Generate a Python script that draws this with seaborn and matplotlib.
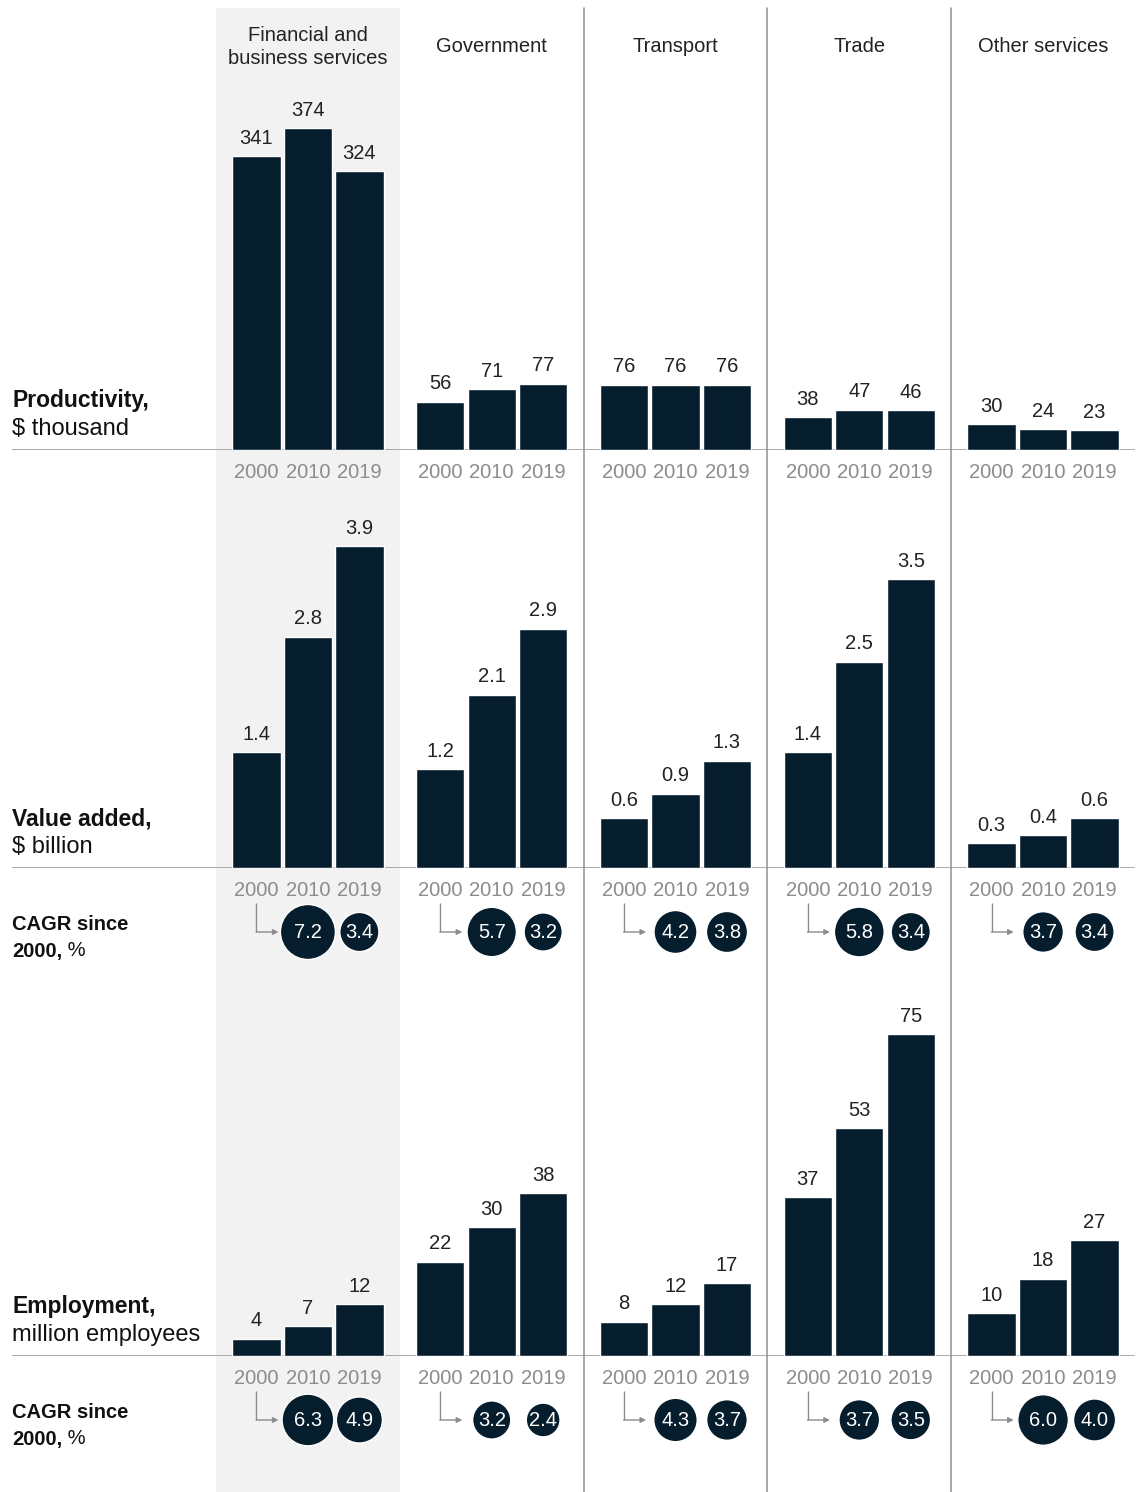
import numpy as np
import pandas as pd
import seaborn as sns
import matplotlib.pyplot as plt
from matplotlib.lines import Line2D
from matplotlib.patches import Rectangle
from matplotlib.text import Annotation
from matplotlib.transforms import blended_transform_factory

sectors = ['Financial and\nbusiness services', 'Government', 'Transport', 'Trade', 'Other services']
years = ['2000', '2010', '2019']

productivity = [[341, 374, 324], [56, 71, 77], [76, 76, 76], [38, 47, 46], [30, 24, 23]]
value_added = [[1.4, 2.8, 3.9], [1.2, 2.1, 2.9], [0.6, 0.9, 1.3], [1.4, 2.5, 3.5], [0.3, 0.4, 0.6]]
employment = [[4, 7, 12], [22, 30, 38], [8, 12, 17], [37, 53, 75], [10, 18, 27]]

periods = ['2000-10', '2010-19']
cagr_value = [[7.2, 3.4], [5.7, 3.2], [4.2, 3.8], [5.8, 3.4], [3.7, 3.4]]
cagr_employment = [[6.3, 4.9], [3.2, 2.4], [4.3, 3.7], [3.7, 3.5], [6.0, 4.0]]

NAVY = '#061d2d'
GREY = '#9a9a9a'
BAND = '#f2f2f2'
W, H = 1142, 1492

sns.set_style('white')
plt.rcParams['font.family'] = ['Liberation Sans', 'DejaVu Sans']

fig = plt.figure(figsize=(W / 100, H / 100), dpi=100)


def px_axes(left, top, right, bottom):
    ax = fig.add_axes([left / W, 1 - bottom / H, (right - left) / W, (bottom - top) / H])
    ax.set_facecolor('none')
    return ax


def long_df(values):
    rows = []
    for s, vals in zip(sectors, values):
        for y, v in zip(years, vals):
            rows.append({'sector': s, 'year': y, 'value': v})
    return pd.DataFrame(rows)


bar_rows = [
    (productivity, 450, 'Productivity,', r'\$ thousand', '{:.0f}', None),
    (value_added, 868, 'Value added,', r'\$ billion', '{:.1f}', cagr_value),
    (employment, 1356, 'Employment,', 'million employees', '{:.0f}', cagr_employment),
]

first_ax = None
for values, base, lab1, lab2, fmt, cagr in bar_rows:
    ax = px_axes(12, base - 360, 1135, base)
    df = long_df(values)
    sns.barplot(data=df, x='sector', y='value', hue='year', order=sectors, hue_order=years,
                palette=[NAVY] * 3, width=0.84, gap=0.06, errorbar=None, legend=False,
                saturation=1, ax=ax)
    vmax = df['value'].max()
    ax.set_ylim(0, vmax * 360 / 322)
    ax.set_xlim(-1.61, 4.5)
    for cont in ax.containers:
        ax.bar_label(cont, fmt=fmt, padding=6, fontsize=14.5, color='#222222')
    pos = sorted(p.get_x() + p.get_width() / 2 for p in ax.patches)
    ax.set_xticks(pos)
    ax.set_xticklabels(years * len(sectors))
    ax.tick_params(axis='x', length=0, pad=9, labelsize=14.5, labelcolor='#8c8c8c')
    ax.set_yticks([])
    ax.set_xlabel('')
    ax.set_ylabel('')
    sns.despine(ax=ax, left=True, bottom=True)
    ax.axhline(0, color=GREY, lw=1.2, zorder=0)

    fig.text(12 / W, 1 - (base - 49) / H, lab1, fontsize=16.5, fontweight='bold',
             va='center', color='#111111')
    fig.text(12 / W, 1 - (base - 21) / H, lab2, fontsize=17, va='center', color='#111111')

    if first_ax is None:
        first_ax = ax

    if cagr is not None:
        cax = px_axes(12, base + 12, 1135, base + 112)
        cax.set_xlim(-1.61, 4.5)
        cax.set_ylim(100, 0)
        cax.axis('off')
        crow = []
        for i, s in enumerate(sectors):
            for j, p in enumerate(periods):
                crow.append({'sector': s, 'period': p, 'cagr': cagr[i][j],
                             'x': pos[3 * i + j + 1], 'y': 52})
        cdf = pd.DataFrame(crow)
        sns.scatterplot(data=cdf, x='x', y='y', size='cagr', sizes=(0, 1568),
                        size_norm=(-0.5, 7.2), color=NAVY, edgecolor='white',
                        linewidth=1, legend=False, ax=cax, clip_on=False, zorder=3)
        for _, r in cdf.iterrows():
            cax.text(r['x'], r['y'], f"{r['cagr']:.1f}", color='white', fontsize=14.5,
                     ha='center', va='center', zorder=4)
        for i in range(len(sectors)):
            x0 = pos[3 * i]
            cax.plot([x0, x0], [23, 52], color='#8c8c8c', lw=1, solid_capstyle='butt')
            cax.annotate('', xy=(x0 + 0.12, 52), xytext=(x0 - 0.002, 52),
                         arrowprops=dict(arrowstyle='-|>', color='#8c8c8c', lw=1,
                                         mutation_scale=8, shrinkA=0, shrinkB=0))
        cax.set_xlabel('')
        cax.set_ylabel('')
        fig.text(12 / W, 1 - (base + 57) / H, 'CAGR since', fontsize=14.5,
                 fontweight='bold', va='center', color='#111111')
        t2 = fig.text(12 / W, 1 - (base + 83) / H, '2000,', fontsize=14.5,
                      fontweight='bold', va='center', color='#111111')
        fig.add_artist(Annotation(' %', xy=(1, 0), xycoords=t2, va='bottom',
                                  fontsize=14.5, color='#111111'))

trans = blended_transform_factory(first_ax.transData, fig.transFigure)

# shaded first column and column separators
fig.add_artist(Rectangle((-0.5, 0), 1, 1 - 8 / H, transform=trans, facecolor=BAND,
                         edgecolor='none', zorder=-2))
for xs in [1.5, 2.5, 3.5]:
    fig.add_artist(Line2D([xs, xs], [0, 1 - 8 / H], transform=trans, color=GREY,
                          lw=1.2, zorder=-1))

for i, s in enumerate(sectors):
    fig.text(i, 1 - 47 / H, s, transform=trans, ha='center', va='center',
             fontsize=14.5, color='#222222', linespacing=1.3)

fig.savefig('out.png', dpi=100)
